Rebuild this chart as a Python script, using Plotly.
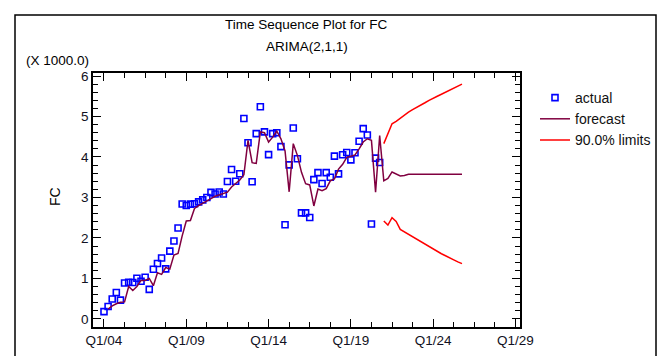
import plotly.graph_objects as go

# ---- data (FC, quarterly, Q1/2004 = index 0) ----
tick_quarters = [0, 20, 40, 60, 80, 100]
tick_labels = ["Q1/04", "Q1/09", "Q1/14", "Q1/19", "Q1/24", "Q1/29"]
y_ticks = [0, 1000, 2000, 3000, 4000, 5000, 6000]
y_tick_labels = ["0", "1", "2", "3", "4", "5", "6"]

actual = [180, 306, 490, 654, 465, 888, 904, 900, 1005, 930, 1030, 730, 1225, 1368,
          1505, 1235, 1675, 1923, 2246, 2840, 2800, 2835, 2845, 2890, 2940, 3000,
          3125, 3085, 3135, 3085, 3395, 3690, 3400, 3585, 4950, 4353, 3390, 4577,
          5240, 4620, 4058, 4577, 4600, 4255, 2325, 3806, 4718, 3955, 2620, 2620,
          2505, 3440, 3615, 3345, 3615, 3500, 4022, 3582, 4055, 4110, 3930, 4105,
          4390, 4701, 4545, 2345, 3972, 3865]

# one-step-ahead fitted values, from the 2nd quarter on
fitted = [240, 320, 375, 410, 420, 800, 700, 800, 950, 950, 1000, 820, 1140, 1100,
          1270, 1230, 1580, 1620, 2050, 2420, 2430, 2730, 2800, 2850, 2910, 2970,
          3030, 3060, 3100, 3130, 3260, 3350, 3430, 3560, 4410, 3860, 3840, 4620,
          4600, 4370, 4490, 4640, 4450, 4150, 3140, 4330, 4040, 3620, 3340, 3310,
          2790, 3210, 3170, 3220, 3410, 3460, 3700, 3820, 3990, 4020, 4050, 4200,
          4370, 4450, 4410, 3130, 4530]

# out-of-sample forecasts Q1/21 .. Q4/25
forecast = [3410, 3470, 3630, 3590, 3530, 3545, 3575, 3575, 3575, 3575, 3575, 3575,
            3575, 3575, 3575, 3575, 3575, 3575, 3575, 3575]
upper90 = [4330, 4560, 4820, 4880, 4960, 5030, 5110, 5170, 5220, 5290, 5340, 5400,
           5460, 5500, 5550, 5600, 5650, 5700, 5750, 5800]
lower90 = [2420, 2320, 2500, 2410, 2210, 2150, 2090, 2020, 1960, 1900, 1840, 1770,
           1720, 1660, 1610, 1560, 1500, 1460, 1410, 1365]

n_act = len(actual)
q_actual = list(range(n_act))
q_line = list(range(1, n_act + len(forecast)))
q_fore = list(range(n_act, n_act + len(forecast)))

FONT = "Liberation Sans, Arial, sans-serif"

fig = go.Figure()
fig.add_trace(go.Scatter(
    x=q_actual, y=actual, mode="markers", name="actual",
    marker=dict(symbol="square-open", size=6, color="#0000FF",
                line=dict(width=1.6, color="#0000FF"))))
fig.add_trace(go.Scatter(
    x=q_line, y=fitted + forecast, mode="lines", name="forecast",
    line=dict(color="#800040", width=1.5)))
fig.add_trace(go.Scatter(
    x=q_fore, y=upper90, mode="lines", name="90.0% limits", legendgroup="lim",
    line=dict(color="#FF0000", width=1.5)))
fig.add_trace(go.Scatter(
    x=q_fore, y=lower90, mode="lines", name="90.0% limits", legendgroup="lim",
    showlegend=False, line=dict(color="#FF0000", width=1.5)))

L, R, T, B = 93, 520, 73, 327
W, H = 663, 356
pw, ph = R - L, B - T


def px(x):
    return (x - L) / pw


def py(y):
    return (B - y) / ph


axis_common = dict(
    showline=True, linewidth=1.6, linecolor="black", mirror="ticks",
    ticks="inside", ticklen=8, tickwidth=1.4, tickcolor="black",
    showgrid=False, zeroline=False,
    tickfont=dict(family=FONT, size=13.5, color="#111122"),
)

fig.update_layout(
    width=W, height=H,
    margin=dict(l=L, r=W - R, t=T, b=H - B, autoexpand=False),
    paper_bgcolor="white", plot_bgcolor="white",
    font=dict(family=FONT, size=13, color="black"),
    showlegend=True,
    legend=dict(x=px(535), y=py(82), xanchor="left", yanchor="top",
                font=dict(family=FONT, size=14, color="#111111"),
                bgcolor="rgba(0,0,0,0)", borderwidth=0, tracegroupgap=0),
    xaxis=dict(range=[-2.67, 101.1], tickvals=tick_quarters, ticktext=tick_labels,
               minor=dict(ticks="inside", tick0=0, dtick=5, ticklen=5,
                          tickwidth=1.2, tickcolor="black"),
               **axis_common),
    yaxis=dict(range=[-200, 6075], tickvals=y_ticks, ticktext=y_tick_labels,
               minor=dict(ticks="inside", tick0=0, dtick=200, ticklen=5,
                          tickwidth=1.2, tickcolor="black"),
               **axis_common),
)

fig.add_annotation(text="Time Sequence Plot for FC", xref="paper", yref="paper",
                   x=0.5, y=py(25), yanchor="middle", showarrow=False,
                   font=dict(family=FONT, size=13.5, color="black"))
fig.add_annotation(text="ARIMA(2,1,1)", xref="paper", yref="paper",
                   x=0.5, y=py(47), yanchor="middle", showarrow=False,
                   font=dict(family=FONT, size=13.5, color="black"))
fig.add_annotation(text="(X 1000.0)", xref="paper", yref="paper",
                   x=px(24), y=py(60), xanchor="left", yanchor="middle",
                   showarrow=False,
                   font=dict(family=FONT, size=13.5, color="black"))
fig.add_annotation(text="FC", xref="paper", yref="paper", textangle=-90,
                   x=px(55), y=py(197), xanchor="center", yanchor="middle",
                   showarrow=False,
                   font=dict(family=FONT, size=14, color="black"))

# outer frame of the chart panel
fig.add_shape(type="rect", xref="paper", yref="paper",
              x0=px(15), x1=px(656), y0=py(370), y1=py(15),
              line=dict(color="black", width=1.5), layer="below")

fig.write_html("out.html",
               config={"displayModeBar": False},
               post_script="document.body.style.margin='0';"
                           "document.body.style.overflow='hidden';")
